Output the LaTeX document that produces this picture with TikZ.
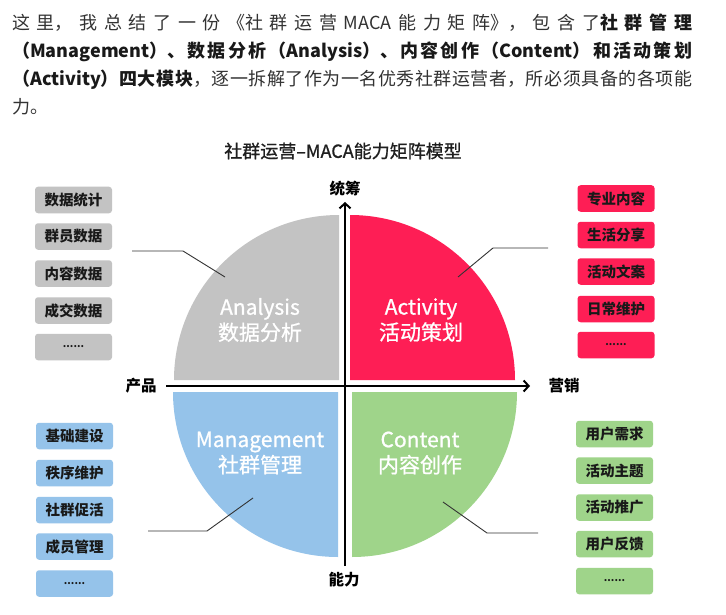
\documentclass[tikz,border=0pt]{standalone}
\usepackage{fontspec}
\newfontfamily\cjk{Noto Sans CJK SC}
\newfontfamily\cjkmed[FakeBold=0.9]{Noto Sans CJK SC}
\usetikzlibrary{arrows.meta}
\definecolor{qgray}{HTML}{C3C3C3}
\definecolor{qred}{HTML}{FE1E55}
\definecolor{qblue}{HTML}{95C3EA}
\definecolor{qgreen}{HTML}{9FD48A}
\definecolor{txt}{HTML}{333333}
\newcommand\jline[1]{\parbox{680pt}{\XeTeXlinebreaklocale "zh"\XeTeXlinebreakskip=0pt plus 1fil\relax\parfillskip=0pt\relax #1}}
\begin{document}
\begin{tikzpicture}[x=1pt,y=-1pt, font=\cjk,
  itembox/.style={rounded corners=3pt, minimum width=77pt, minimum height=26.5pt, inner sep=0pt, font=\cjk\bfseries\fontsize{14.5}{16}\selectfont, text=black!90},
  dotbox/.style={itembox, font=\cjk\bfseries\fontsize{10}{12}\selectfont},
  quadlabel/.style={text=white, align=center, font=\cjkmed\fontsize{21}{25.5}\selectfont},
  axislabel/.style={font=\cjk\bfseries\fontsize{15.5}{18}\selectfont, text=black},
  leader/.style={draw=black!80, line width=0.9pt},
  axis/.style={line width=2.3pt, -{Straight Barb[length=5pt,width=11pt,line width=2pt]}},
  para/.style={anchor=west, inner sep=0pt, text=txt, font=\cjk\fontsize{18}{22}\selectfont}
]
\fill[white] (0,0) rectangle (726,615);
\useasboundingbox (0,0) rectangle (726,615);

% paragraph
\node[para] (p1) at (12,23) {\jline{这里，我总结了一份《社群运营MACA能力矩阵》，包含了\textbf{\color{black!90}社群管理}}};
\node[para] (p2) at (12,52) {\jline{\bfseries\color{black!90}（Management）、数据分析（Analysis）、内容创作（Content）和活动策划}};
\node[para] (p3) at (12,80) {\jline{\textbf{\color{black!90}（Activity）四大模块}，逐一拆解了作为一名优秀社群运营者，所必须具备的各项能}};
\node[para] (p4) at (12,107) {力。};

% title
\node[font=\cjkmed\fontsize{18}{21}\selectfont, text=black!88] (title) at (343,151) {社群运营–MACA能力矩阵模型};

% quadrants
\fill[qgray] (339,380) -- (174,380) arc[start angle=180,end angle=90,radius=165pt] -- cycle;
\fill[qred] (350,380) -- (350,215) arc[start angle=90,end angle=0,radius=165pt] -- cycle;
\fill[qblue] (338,392) -- (173,392) arc[start angle=180,end angle=270,radius=165pt] -- cycle;
\fill[qgreen] (352,392) -- (352,557) arc[start angle=270,end angle=360,radius=165pt] -- cycle;

\node[quadlabel] (qa) at (260,320) {Analysis\\数据分析};
\node[quadlabel] (qb) at (421,320) {Activity\\活动策划};
\node[quadlabel] (qc) at (260,453) {Management\\社群管理};
\node[quadlabel] (qd) at (420,453) {Content\\内容创作};

% axes
\node[axislabel] (ltop) at (345,189) {统筹};
\node[axislabel] (lbottom) at (344,580) {能力};
\node[axislabel] (lleft) at (141,386) {产品};
\node[axislabel] (lright) at (564,386) {营销};
\coordinate (hstart) at (166,386);
\coordinate (hend) at (530,386);
\coordinate (vstart) at (345,566);
\coordinate (vend) at (345,202);
\draw[axis] (vstart) -- (vend);
\draw[axis] (hstart) -- (hend);

% gray boxes
\node[itembox, fill=qgray] (g1) at (73.5,200) {数据统计};
\node[itembox, fill=qgray] (g2) at (73.5,236.5) {群员数据};
\node[itembox, fill=qgray] (g3) at (73.5,273.5) {内容数据};
\node[itembox, fill=qgray] (g4) at (73.5,310.5) {成交数据};
\node[dotbox, fill=qgray] (g5) at (73.5,347) {......};

% red boxes
\node[itembox, fill=qred] (r1) at (616,198.5) {专业内容};
\node[itembox, fill=qred] (r2) at (616,235) {生活分享};
\node[itembox, fill=qred] (r3) at (616,271.5) {活动文案};
\node[itembox, fill=qred] (r4) at (616,309) {日常维护};
\node[dotbox, fill=qred] (r5) at (616,345) {......};

% blue boxes
\node[itembox, fill=qblue] (b1) at (74.5,436) {基础建设};
\node[itembox, fill=qblue] (b2) at (74.5,473) {秩序维护};
\node[itembox, fill=qblue] (b3) at (74.5,510) {社群促活};
\node[itembox, fill=qblue] (b4) at (74.5,546.5) {成员管理};
\node[dotbox, fill=qblue] (b5) at (74.5,583.5) {......};

% green boxes
\node[itembox, fill=qgreen] (n1) at (614.5,434) {用户需求};
\node[itembox, fill=qgreen] (n2) at (614.5,470.5) {活动主题};
\node[itembox, fill=qgreen] (n3) at (614.5,507.5) {活动推广};
\node[itembox, fill=qgreen] (n4) at (614.5,544) {用户反馈};
\node[dotbox, fill=qgreen] (n5) at (614.5,581) {......};

% leaders
\coordinate (ga) at (132,251); \coordinate (gb) at (183,251); \coordinate (gc) at (225,277);
\coordinate (ra) at (458,277); \coordinate (rb) at (493,248); \coordinate (rc) at (548,248);
\coordinate (ba) at (148,531); \coordinate (bb) at (207,531); \coordinate (bc) at (253,498);
\coordinate (na) at (443,502); \coordinate (nb) at (487,533); \coordinate (nc) at (538,533);
\draw[leader] (ga) -- (gb) -- (gc);
\draw[leader] (ra) -- (rb) -- (rc);
\draw[leader] (ba) -- (bb) -- (bc);
\draw[leader] (na) -- (nb) -- (nc);
\end{tikzpicture}
\end{document}
